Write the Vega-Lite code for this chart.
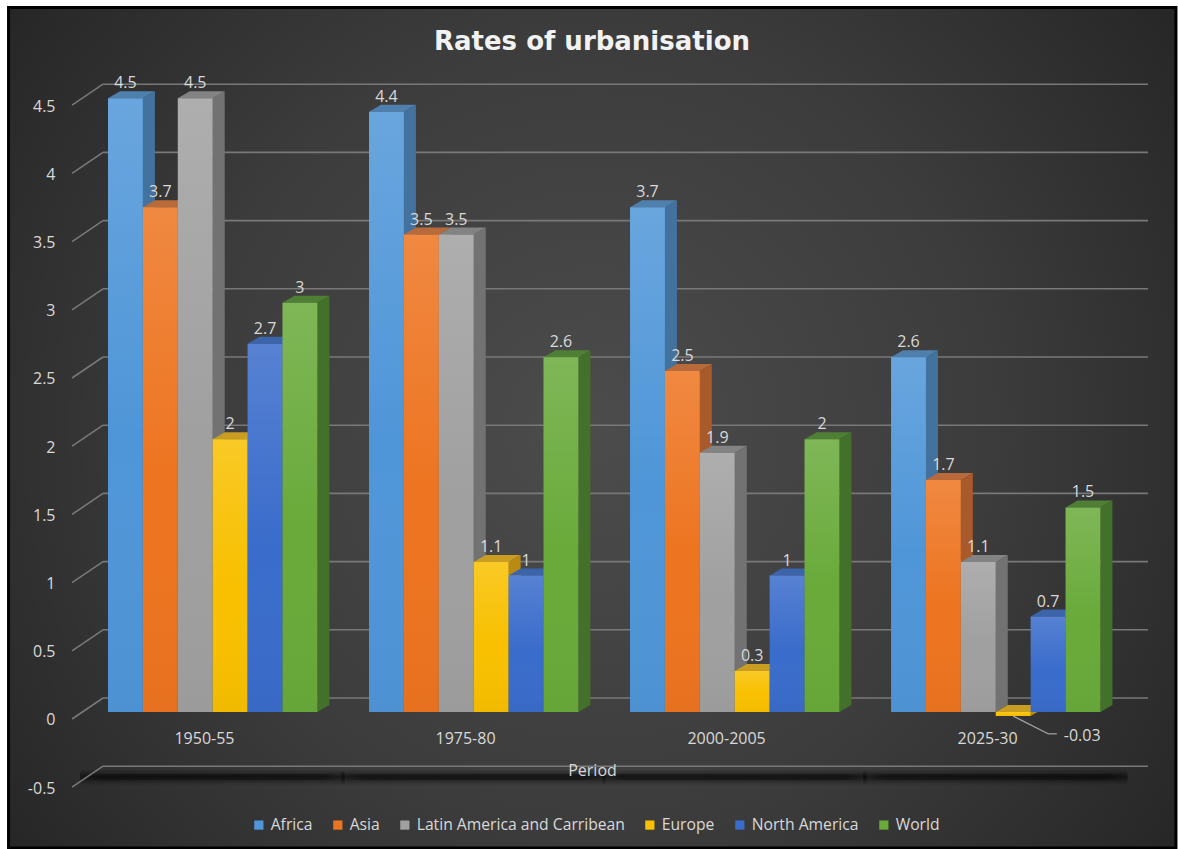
{
  "$schema": "https://vega.github.io/schema/vega-lite/v6.json",
  "width": 1178,
  "height": 849,
  "autosize": {"type": "none"},
  "padding": 0,
  "background": "#ffffff",
  "title": {
    "text": "Rates of urbanisation",
    "font": "DejaVu Sans",
    "fontWeight": "bold",
    "fontSize": 26,
    "color": "#f2f2f2",
    "anchor": "middle",
    "dx": 3,
    "offset": -55
  },
  "config": {"view": {"stroke": null}},
  "data": {
    "values": [
      {"period": "1950-55", "series": "Africa", "value": 4.5},
      {"period": "1950-55", "series": "Asia", "value": 3.7},
      {"period": "1950-55", "series": "Latin America and Carribean", "value": 4.5},
      {"period": "1950-55", "series": "Europe", "value": 2},
      {"period": "1950-55", "series": "North America", "value": 2.7},
      {"period": "1950-55", "series": "World", "value": 3},
      {"period": "1975-80", "series": "Africa", "value": 4.4},
      {"period": "1975-80", "series": "Asia", "value": 3.5},
      {"period": "1975-80", "series": "Latin America and Carribean", "value": 3.5},
      {"period": "1975-80", "series": "Europe", "value": 1.1},
      {"period": "1975-80", "series": "North America", "value": 1},
      {"period": "1975-80", "series": "World", "value": 2.6},
      {"period": "2000-2005", "series": "Africa", "value": 3.7},
      {"period": "2000-2005", "series": "Asia", "value": 2.5},
      {"period": "2000-2005", "series": "Latin America and Carribean", "value": 1.9},
      {"period": "2000-2005", "series": "Europe", "value": 0.3},
      {"period": "2000-2005", "series": "North America", "value": 1},
      {"period": "2000-2005", "series": "World", "value": 2},
      {"period": "2025-30", "series": "Africa", "value": 2.6},
      {"period": "2025-30", "series": "Asia", "value": 1.7},
      {"period": "2025-30", "series": "Latin America and Carribean", "value": 1.1},
      {"period": "2025-30", "series": "Europe", "value": -0.03},
      {"period": "2025-30", "series": "North America", "value": 0.7},
      {"period": "2025-30", "series": "World", "value": 1.5}
    ]
  },
  "transform": [
    {"calculate": "indexof(['1950-55','1975-80','2000-2005','2025-30'], datum.period) * 7.479 + indexof(['Africa','Asia','Latin America and Carribean','Europe','North America','World'], datum.series)", "as": "slot"},
    {"calculate": "datum.slot + 1", "as": "slotEnd"},
    {"calculate": "datum.slot + 0.5", "as": "slotMid"},
    {"calculate": "max(datum.value, 0)", "as": "hi"},
    {"calculate": "min(datum.value, 0)", "as": "lo"},
    {"calculate": "datum.period + '|' + datum.series", "as": "bar"}
  ],
  "layer": [
    {
      "description": "Chart panel with a dark radial sheen and black frame, carrying both axes",
      "data": {"values": [{}]},
      "transform": [],
      "mark": {
        "type": "rect",
        "stroke": "#000000",
        "strokeWidth": 3,
        "fill": {
          "gradient": "radial",
          "x1": 0.5, "y1": 0.5, "r1": 0,
          "x2": 0.5, "y2": 0.5, "r2": 0.62,
          "stops": [
            {"offset": 0, "color": "#4c4c4c"},
            {"offset": 0.55, "color": "#3c3c3c"},
            {"offset": 1, "color": "#262626"}
          ]
        }
      },
      "encoding": {
        "x": {
          "datum": -2.85, "type": "quantitative",
          "scale": {"domain": [-3.0946, 30.659], "nice": false, "zero": false},
          "axis": {
            "values": [2.75, 10.23, 17.71, 25.19],
            "labelExpr": "datum.value < 5 ? '1950-55' : datum.value < 12 ? '1975-80' : datum.value < 20 ? '2000-2005' : '2025-30'",
            "orient": "bottom",
            "offset": -122,
            "domain": false,
            "ticks": false,
            "grid": false,
            "labelPadding": 3,
            "labelFont": "Open Sans",
            "labelFontSize": 16,
            "labelColor": "#d9d9d9",
            "labelOverlap": false,
            "labelFlush": false,
            "title": "Period",
            "titleFont": "Open Sans",
            "titleFontSize": 16,
            "titleFontWeight": "normal",
            "titleColor": "#d9d9d9",
            "titleAnchor": "middle",
            "titleX": 592,
            "titleY": 43,
            "titleBaseline": "middle",
            "zindex": 2
          }
        },
        "x2": {"datum": 30.6},
        "y": {
          "datum": 5.165, "type": "quantitative",
          "scale": {"domain": [-1.0044, 5.2199], "nice": false, "zero": false},
          "axis": {
            "values": [-0.5, 0, 0.5, 1, 1.5, 2, 2.5, 3, 3.5, 4, 4.5],
            "labelExpr": "'' + datum.value",
            "orient": "left",
            "offset": -55,
            "domain": false,
            "ticks": false,
            "grid": false,
            "labelPadding": 0,
            "labelOffset": 8,
            "labelFont": "Open Sans",
            "labelFontSize": 16,
            "labelColor": "#d9d9d9",
            "labelOverlap": false,
            "labelFlush": false,
            "title": null,
            "zindex": 2
          }
        },
        "y2": {"datum": -0.997}
      }
    },
    {
      "description": "Faint halo of the floor shadow under each period group",
      "data": {"values": [{"group": 0}, {"group": 1}, {"group": 2}, {"group": 3}]},
      "transform": [
        {"calculate": "datum.group * 7.479 - 0.8", "as": "from"},
        {"calculate": "datum.group * 7.479 + 6.78", "as": "to"}
      ],
      "mark": {
        "type": "rect",
        "cornerRadius": 5,
        "fill": {
          "gradient": "linear",
          "x1": 0, "y1": 0, "x2": 0, "y2": 1,
          "stops": [
            {"offset": 0, "color": "rgba(0,0,0,0)"},
            {"offset": 0.45, "color": "rgba(0,0,0,0.5)"},
            {"offset": 1, "color": "rgba(0,0,0,0)"}
          ]
        }
      },
      "encoding": {
        "x": {"field": "from", "type": "quantitative"},
        "x2": {"field": "to"},
        "y": {"datum": -0.42, "type": "quantitative"},
        "y2": {"datum": -0.54}
      }
    },
    {
      "description": "Dark core of the floor shadow, fading at both ends",
      "data": {"values": [{"group": 0}, {"group": 1}, {"group": 2}, {"group": 3}]},
      "transform": [
        {"calculate": "datum.group * 7.479 - 0.8", "as": "from"},
        {"calculate": "datum.group * 7.479 + 6.78", "as": "to"}
      ],
      "mark": {
        "type": "rect",
        "cornerRadius": 3,
        "fill": {
          "gradient": "linear",
          "x1": 0, "y1": 0, "x2": 1, "y2": 0,
          "stops": [
            {"offset": 0, "color": "rgba(0,0,0,0)"},
            {"offset": 0.08, "color": "rgba(0,0,0,0.35)"},
            {"offset": 0.92, "color": "rgba(0,0,0,0.35)"},
            {"offset": 1, "color": "rgba(0,0,0,0)"}
          ]
        }
      },
      "encoding": {
        "x": {"field": "from", "type": "quantitative"},
        "x2": {"field": "to"},
        "y": {"datum": -0.455, "type": "quantitative"},
        "y2": {"datum": -0.5}
      }
    },
    {
      "description": "Back-wall gridlines",
      "data": {"values": [{"tick": -0.5}, {"tick": 0}, {"tick": 0.5}, {"tick": 1}, {"tick": 1.5}, {"tick": 2}, {"tick": 2.5}, {"tick": 3}, {"tick": 3.5}, {"tick": 4}, {"tick": 4.5}]},
      "transform": [{"calculate": "datum.tick + 0.1026", "as": "back"}],
      "mark": {"type": "rule", "stroke": "#787878", "strokeWidth": 1.6},
      "encoding": {
        "x": {"datum": -0.143, "type": "quantitative"},
        "x2": {"datum": 29.8},
        "y": {"field": "back", "type": "quantitative"}
      }
    },
    {
      "description": "Diagonal gridline stubs on the side wall",
      "data": {"values": [{"tick": -0.5}, {"tick": 0}, {"tick": 0.5}, {"tick": 1}, {"tick": 1.5}, {"tick": 2}, {"tick": 2.5}, {"tick": 3}, {"tick": 3.5}, {"tick": 4}, {"tick": 4.5}]},
      "transform": [
        {"calculate": "datum.tick + 0.1026", "as": "back"},
        {"calculate": "datum.tick - 0.0513", "as": "front"}
      ],
      "mark": {"type": "rule", "stroke": "#787878", "strokeWidth": 1.6},
      "encoding": {
        "x": {"datum": -1.03, "type": "quantitative"},
        "x2": {"datum": -0.143},
        "y": {"field": "front", "type": "quantitative"},
        "y2": {"field": "back"}
      }
    },
    {
      "description": "Right-hand side faces of the bars",
      "transform": [
        {"calculate": "[0, 1]", "as": "t"},
        {"flatten": ["t"]},
        {"calculate": "datum.slotEnd + datum.t * 0.344", "as": "fx"},
        {"calculate": "datum.hi + datum.t * 0.0513", "as": "fy"},
        {"calculate": "datum.lo + datum.t * 0.0513", "as": "fy2"}
      ],
      "mark": {"type": "area", "line": false, "interpolate": "linear", "opacity": 1},
      "encoding": {
        "x": {"field": "fx", "type": "quantitative"},
        "y": {"field": "fy", "type": "quantitative", "stack": null},
        "y2": {"field": "fy2"},
        "detail": {"field": "bar"},
        "color": {
          "field": "series", "type": "nominal", "legend": null,
          "scale": {
            "domain": ["Africa", "Asia", "Latin America and Carribean", "Europe", "North America", "World"],
            "range": ["#44729f", "#a85a2a", "#727272", "#b98b10", "#2f5597", "#43702a"]
          }
        }
      }
    },
    {
      "description": "Top faces of the bars",
      "transform": [
        {"calculate": "[0, 1]", "as": "t"},
        {"flatten": ["t"]},
        {"calculate": "datum.slot + datum.t * 0.344", "as": "fx"},
        {"calculate": "datum.slotEnd + datum.t * 0.344", "as": "fx2"},
        {"calculate": "datum.hi + datum.t * 0.0513", "as": "fy"}
      ],
      "mark": {"type": "area", "orient": "horizontal", "line": false, "interpolate": "linear", "opacity": 1},
      "encoding": {
        "y": {"field": "fy", "type": "quantitative"},
        "x": {"field": "fx", "type": "quantitative", "stack": null},
        "x2": {"field": "fx2"},
        "detail": {"field": "bar"},
        "color": {
          "field": "series", "type": "nominal", "legend": null,
          "scale": {
            "domain": ["Africa", "Asia", "Latin America and Carribean", "Europe", "North America", "World"],
            "range": ["#4f80ad", "#b86a3a", "#838383", "#c99c22", "#3c64ab", "#4f7f34"]
          }
        }
      }
    },
    {
      "description": "Front faces of the bars, carrying the legend",
      "mark": {"type": "rect"},
      "encoding": {
        "x": {"field": "slot", "type": "quantitative"},
        "x2": {"field": "slotEnd"},
        "y": {"field": "hi", "type": "quantitative"},
        "y2": {"field": "lo"},
        "color": {
          "field": "series", "type": "nominal",
          "scale": {
            "domain": ["Africa", "Asia", "Latin America and Carribean", "Europe", "North America", "World"],
            "range": ["#4f96d8", "#ed7420", "#a0a0a0", "#f8c000", "#3a6ccb", "#69aa3a"]
          },
          "legend": {
            "title": null,
            "orient": "none",
            "legendX": 251,
            "legendY": 817,
            "direction": "horizontal",
            "symbolType": "square",
            "symbolSize": 85,
            "symbolStrokeWidth": 0,
            "labelFont": "Open Sans",
            "labelFontSize": 15.7,
            "labelColor": "#d9d9d9",
            "labelOffset": 4,
            "columnPadding": 17,
            "labelLimit": 300
          }
        }
      }
    },
    {
      "description": "Highlight that lightens the top of each front face",
      "mark": {
        "type": "rect",
        "fill": {
          "gradient": "linear",
          "x1": 0, "y1": 0, "x2": 0, "y2": 1,
          "stops": [
            {"offset": 0, "color": "rgba(255,255,255,0.15)"},
            {"offset": 0.55, "color": "rgba(255,255,255,0)"},
            {"offset": 1, "color": "rgba(0,0,0,0.03)"}
          ]
        }
      },
      "encoding": {
        "x": {"field": "slot", "type": "quantitative"},
        "x2": {"field": "slotEnd"},
        "y": {"field": "hi", "type": "quantitative"},
        "y2": {"field": "lo"}
      }
    },
    {
      "description": "Value labels above the positive bars",
      "transform": [
        {"filter": "datum.value >= 0"},
        {"calculate": "datum.value + 0.11", "as": "labelY"}
      ],
      "mark": {"type": "text", "font": "Open Sans", "fontSize": 16, "color": "#d9d9d9", "align": "center", "baseline": "middle"},
      "encoding": {
        "x": {"field": "slotMid", "type": "quantitative"},
        "y": {"field": "labelY", "type": "quantitative"},
        "text": {"field": "value", "type": "nominal"}
      }
    },
    {
      "description": "Leader line to the label of the negative bar",
      "transform": [
        {"filter": "datum.value < 0"},
        {"calculate": "datum.slot + 0.5", "as": "x0"},
        {"calculate": "datum.slot + 1.5", "as": "x1"},
        {"calculate": "datum.value - 0.13", "as": "yl"}
      ],
      "mark": {"type": "rule", "stroke": "#a6a6a6", "strokeWidth": 1.2},
      "encoding": {
        "x": {"field": "x0", "type": "quantitative"},
        "x2": {"field": "x1"},
        "y": {"field": "value", "type": "quantitative"},
        "y2": {"field": "yl"}
      }
    },
    {
      "description": "Short horizontal end of the leader line",
      "transform": [
        {"filter": "datum.value < 0"},
        {"calculate": "datum.slot + 1.5", "as": "x1"},
        {"calculate": "datum.slot + 1.75", "as": "x2"},
        {"calculate": "datum.value - 0.13", "as": "yl"}
      ],
      "mark": {"type": "rule", "stroke": "#a6a6a6", "strokeWidth": 1.2},
      "encoding": {
        "x": {"field": "x1", "type": "quantitative"},
        "x2": {"field": "x2"},
        "y": {"field": "yl", "type": "quantitative"}
      }
    },
    {
      "description": "Label of the negative bar",
      "transform": [
        {"filter": "datum.value < 0"},
        {"calculate": "datum.slot + 1.95", "as": "labelX"},
        {"calculate": "datum.value - 0.145", "as": "labelY"}
      ],
      "mark": {"type": "text", "font": "Open Sans", "fontSize": 16, "color": "#d9d9d9", "align": "left", "baseline": "middle"},
      "encoding": {
        "x": {"field": "labelX", "type": "quantitative"},
        "y": {"field": "labelY", "type": "quantitative"},
        "text": {"field": "value", "type": "nominal"}
      }
    }
  ],
  "resolve": {"scale": {"color": "independent"}}
}
